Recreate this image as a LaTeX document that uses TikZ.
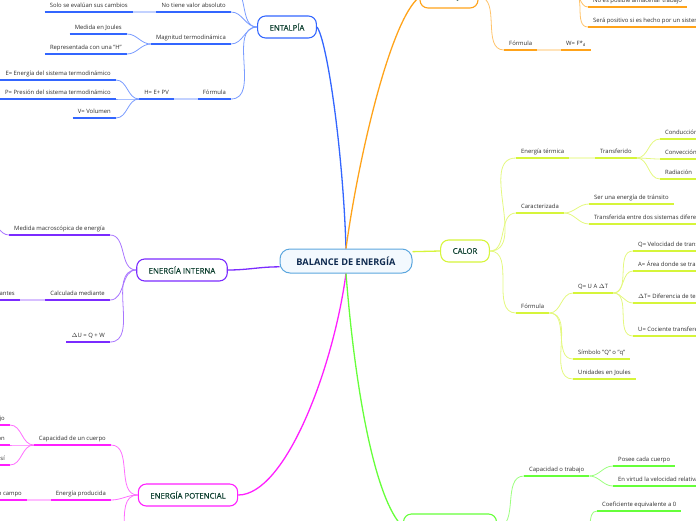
\documentclass[tikz,border=0pt]{standalone}
\usepackage{fontspec}
\setmainfont{Open Sans}
\newfontfamily\topicfam[FakeBold=0.5]{Open Sans}
\usetikzlibrary{positioning}
\newcommand{\leaffont}{\fontsize{5.9}{7}\selectfont}
\newcommand{\topicfont}{\topicfam\fontsize{7.8}{9}\selectfont}
\newcommand{\rootfont}{\fontsize{9.2}{11}\selectfont\bfseries}
\definecolor{entblue}{HTML}{3366FF}
\definecolor{traorange}{HTML}{FFA31A}
\definecolor{intpurple}{HTML}{7B2BFF}
\definecolor{potmagenta}{HTML}{FF1FFF}
\definecolor{cingreen}{HTML}{66FF3A}
\definecolor{calyellow}{HTML}{D6F53A}
\definecolor{rootblue}{HTML}{5BA6DE}
\definecolor{rootfill}{HTML}{F3F9FE}
\definecolor{roottext}{HTML}{0E2A4F}
\definecolor{topictext}{HTML}{0E4030}
\definecolor{leaftext}{HTML}{2E2E2E}
\tikzset{
  rootbox/.style={draw=rootblue, fill=rootfill, line width=1pt, rounded corners=10pt, minimum width=132pt, minimum height=24pt, font=\rootfont, text=roottext},
  topic/.style={draw=#1, fill=white, line width=1.1pt, rounded corners=8pt, minimum height=22pt, inner xsep=12pt, font=\topicfont, text=topictext},
  leaf/.style={inner xsep=5pt, inner ysep=3.4pt, text height=4.4pt, text depth=1.3pt, font=\leaffont, text=leaftext,
    append after command={(\tikzlastnode.south west) edge[draw=#1, line width=1.6pt] (\tikzlastnode.south east)}},
  leafL/.style={leaf=#1, anchor=south east},
  leafR/.style={leaf=#1, anchor=south west},
  branch/.style={draw=#1, line width=1.3pt},
  link/.style={draw=#1!65, line width=0.8pt},
  stub/.style={draw=#1!30, line width=1.6pt}
}

\begin{document}
\begin{tikzpicture}[x=1pt, y=-1pt]
  \useasboundingbox (0,0) rectangle (696,520);
  \clip (0,0) rectangle (696,520);

  % main topics
  \node[rootbox] (bal) at (346,261) {BALANCE DE ENERGÍA};
  \node[topic=entblue] (ent) at (287,27) {ENTALPÍA};
  \node[topic=traorange, minimum width=58pt] (tra) at (449,-3) {TRABAJO};
  \node[topic=intpurple] (int) at (182,270) {ENERGÍA INTERNA};
  \node[topic=calyellow] (cal) at (465,251) {CALOR};
  \node[topic=potmagenta] (pot) at (188,495) {ENERGÍA POTENCIAL};
  \node[topic=cingreen, minimum width=93pt, minimum height=26pt] (cin) at (450,527) {ENERGÍA CINÉTICA};

  \draw[branch=entblue] (bal.north) .. controls (343,150) and (327,40) .. (ent.east);
  \draw[branch=traorange] (bal.north) .. controls (358,160) and (390,20) .. (tra.west);
  \draw[branch=intpurple] (bal.185) to[out=180,in=0] (int.east);
  \draw[branch=calyellow] (bal.8) -- (cal.west);
  \draw[branch=potmagenta] (bal.south) .. controls (333,370) and (285,495) .. (pot.east);
  \draw[branch=cingreen] (bal.south) .. controls (355,390) and (375,500) .. (cin.west);

  % entalpia
  \node[leafL=entblue] (ent1) at (231,12) {No tiene valor absoluto};
  \node[leafL=entblue] (ent11) at (133,12) {Solo se evalúan sus cambios};
  \node[leafL=entblue] (ent2) at (231,44) {Magnitud termodinámica};
  \node[leafL=entblue] (ent21) at (127,34) {Medida en Joules};
  \node[leafL=entblue] (ent22) at (127,54) {Representada con una "H"};
  \node[leafL=entblue] (ent3) at (231,99) {Fórmula};
  \node[leafL=entblue] (ent31) at (174,99) {H= E+ PV};
  \node[leafL=entblue] (ent311) at (116,80) {E= Energía del sistema termodinámico};
  \node[leafL=entblue] (ent312) at (116,99) {P= Presión del sistema termodinámico};
  \node[leafL=entblue] (ent313) at (116,118) {V= Volumen};
  \coordinate (ent0) at (231,-12);

  \draw[link=entblue] (ent.west) to[out=180,in=0] (ent0);
  \foreach \k in {ent1,ent2,ent3}
    \draw[link=entblue] (ent.west) to[out=180,in=0] (\k.south east);
  \draw[stub=entblue] (ent1.south west) -- (ent11.south east);
  \draw[link=entblue] (ent2.south west) to[out=180,in=0] (ent21.south east);
  \draw[link=entblue] (ent2.south west) to[out=180,in=0] (ent22.south east);
  \draw[stub=entblue] (ent3.south west) -- (ent31.south east);
  \foreach \k in {ent311,ent312,ent313}
    \draw[link=entblue] (ent31.south west) to[out=180,in=0] (\k.south east);

  % trabajo
  \node[leafR=traorange] (tra1) at (504,50) {Fórmula};
  \node[leafR=traorange] (tra11) at (561,50) {W= F*\textsubscript{d}};
  \coordinate (tra0) at (572,-8);
  \node[leafR=traorange] (tra01) at (588,7) {No es posible almacenar trabajo};
  \node[leafR=traorange] (tra02) at (588,27) {Será positivo si es hecho por un sistema};

  \draw[link=traorange] (tra.east) to[out=0,in=180] (tra1.south west);
  \draw[stub=traorange] (tra1.south east) -- (tra11.south west);
  \draw[link=traorange] (tra0) to[out=0,in=180] (tra01.south west);
  \draw[link=traorange] (tra0) to[out=0,in=180] (tra02.south west);

  % energia interna
  \node[leafL=intpurple] (int1) at (110,235) {Medida macroscópica de energía};
  \node[leafL=intpurple] (int2) at (110,300) {Calculada mediante};
  \node[leafL=intpurple] (int21) at (20,300) {antes};
  \node[leafL=intpurple] (int3) at (110,342) {$\Delta$U = Q + W};
  \coordinate (int11) at (-12,222);

  \foreach \k in {int1,int2,int3}
    \draw[link=intpurple] (int.west) to[out=180,in=0] (\k.south east);
  \draw[link=intpurple] (int1.south west) to[out=180,in=0] (int11);
  \draw[stub=intpurple] (int2.south west) -- (int21.south east);

  % calor
  \node[leafR=calyellow] (cal1) at (516,158) {Energía térmica};
  \node[leafR=calyellow] (cal11) at (595,158) {Transferido};
  \node[leafR=calyellow] (cal111) at (660,139) {Conducción};
  \node[leafR=calyellow] (cal112) at (660,159) {Convección};
  \node[leafR=calyellow] (cal113) at (660,179) {Radiación};
  \node[leafR=calyellow] (cal2) at (516,213) {Caracterizada};
  \node[leafR=calyellow] (cal21) at (589,204) {Ser una energía de tránsito};
  \node[leafR=calyellow] (cal22) at (589,224) {Transferida entre dos sistemas diferentes};
  \node[leafR=calyellow] (cal3) at (516,313) {Fórmula};
  \node[leafR=calyellow] (cal31) at (573,293) {Q= U A $\Delta$T};
  \node[leafR=calyellow] (cal311) at (633,251) {Q= Velocidad de transferencia};
  \node[leafR=calyellow] (cal312) at (633,271) {A= Área donde se transfiere};
  \node[leafR=calyellow] (cal313) at (633,303) {$\Delta$T= Diferencia de temperatura};
  \node[leafR=calyellow] (cal314) at (633,336) {U= Cociente transferencia};
  \node[leafR=calyellow] (cal32) at (573,359) {Símbolo "Q" o "q"};
  \node[leafR=calyellow] (cal33) at (573,379) {Unidades en Joules};

  \foreach \k in {cal1,cal2,cal3}
    \draw[link=calyellow] (cal.east) to[out=0,in=180] (\k.south west);
  \draw[stub=calyellow] (cal1.south east) -- (cal11.south west);
  \foreach \k in {cal111,cal112,cal113}
    \draw[link=calyellow] (cal11.south east) to[out=0,in=180] (\k.south west);
  \foreach \k in {cal21,cal22}
    \draw[link=calyellow] (cal2.south east) to[out=0,in=180] (\k.south west);
  \foreach \k in {cal31,cal32,cal33}
    \draw[link=calyellow] (cal3.south east) to[out=0,in=180] (\k.south west);
  \foreach \k in {cal311,cal312,cal313,cal314}
    \draw[link=calyellow] (cal31.south east) to[out=0,in=180] (\k.south west);

  % energia potencial
  \node[leafL=potmagenta] (pot1) at (111,445) {Capacidad de un cuerpo};
  \node[leafL=potmagenta] (pot11) at (10,425) {jo};
  \node[leafL=potmagenta] (pot12) at (10,445) {ón};
  \node[leafL=potmagenta] (pot13) at (10,465) {sí};
  \node[leafL=potmagenta] (pot2) at (111,500) {Energía producida};
  \node[leafL=potmagenta] (pot21) at (27,500) {n campo};
  \coordinate (pot3) at (111,562);

  \foreach \k in {pot1,pot2}
    \draw[link=potmagenta] (pot.west) to[out=180,in=0] (\k.south east);
  \draw[link=potmagenta] (pot.west) to[out=180,in=0] (pot3);
  \foreach \k in {pot11,pot12,pot13}
    \draw[link=potmagenta] (pot1.south west) to[out=180,in=0] (\k.south east);
  \draw[stub=potmagenta] (pot2.south west) -- (pot21.south east);

  % energia cinetica
  \node[leafR=cingreen] (cin1) at (524,476) {Capacidad o trabajo};
  \node[leafR=cingreen] (cin11) at (613,466) {Posee cada cuerpo};
  \node[leafR=cingreen] (cin12) at (613,486) {En virtud la velocidad relativa};
  \coordinate (cin2) at (583,538);
  \node[leafR=cingreen] (cin21) at (597,511) {Coeficiente equivalente a 0};

  \draw[link=cingreen] (cin.east) to[out=0,in=180] (cin1.south west);
  \foreach \k in {cin11,cin12}
    \draw[link=cingreen] (cin1.south east) to[out=0,in=180] (\k.south west);
  \draw[link=cingreen] (cin2) to[out=0,in=180] (cin21.south west);
\end{tikzpicture}
\end{document}
